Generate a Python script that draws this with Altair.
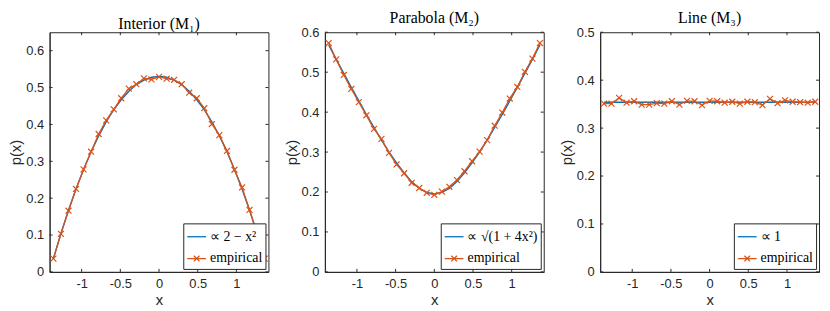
import altair as alt
import pandas as pd

# ---------------- data ----------------
XS = [-1.365, -1.268, -1.170, -1.073, -0.975, -0.878, -0.780, -0.683, -0.585, -0.488,
      -0.390, -0.293, -0.195, -0.098, 0.0, 0.098, 0.195, 0.293, 0.390, 0.488,
      0.585, 0.683, 0.780, 0.878, 0.975, 1.073, 1.170, 1.268, 1.365]

THEORY1 = [0.036, 0.104, 0.167, 0.225, 0.278, 0.326, 0.369, 0.407, 0.440, 0.467,
           0.490, 0.508, 0.520, 0.528, 0.530, 0.528, 0.520, 0.508, 0.490, 0.467,
           0.440, 0.407, 0.369, 0.326, 0.278, 0.225, 0.167, 0.104, 0.036]
EMP1 = [0.036, 0.103, 0.166, 0.225, 0.278, 0.326, 0.374, 0.411, 0.441, 0.471,
        0.497, 0.509, 0.525, 0.522, 0.529, 0.524, 0.521, 0.509, 0.486, 0.471,
        0.444, 0.401, 0.371, 0.328, 0.277, 0.229, 0.168, 0.104, 0.036]

THEORY2 = [0.568, 0.532, 0.497, 0.462, 0.428, 0.394, 0.362, 0.330, 0.300, 0.273,
           0.248, 0.226, 0.209, 0.199, 0.195, 0.199, 0.209, 0.226, 0.248, 0.273,
           0.300, 0.330, 0.362, 0.394, 0.428, 0.462, 0.497, 0.532, 0.568]
EMP2 = [0.573, 0.532, 0.493, 0.458, 0.425, 0.392, 0.358, 0.333, 0.298, 0.269,
        0.247, 0.223, 0.210, 0.198, 0.193, 0.201, 0.213, 0.230, 0.252, 0.277,
        0.301, 0.330, 0.366, 0.399, 0.434, 0.463, 0.501, 0.534, 0.573]

THEORY3 = [0.354] * 29
EMP3 = [0.351, 0.351, 0.363, 0.353, 0.356, 0.349, 0.349, 0.352, 0.351, 0.356,
        0.349, 0.357, 0.356, 0.348, 0.357, 0.356, 0.353, 0.355, 0.351, 0.355,
        0.354, 0.348, 0.361, 0.352, 0.358, 0.355, 0.354, 0.353, 0.355]

TITLES = ["Interior (M\u2081)", "Parabola (M\u2082)", "Line (M\u2083)"]
THEORY_LABELS = ["\u221d 2 \u2212 x\u00b2", "\u221d \u221a(1 + 4x\u00b2)", "\u221d 1"]
EMP_LABEL = "empirical"
X_DOMAIN = [-1.4142, 1.4142]
X_TICKS = [-1, -0.5, 0, 0.5, 1]
Y_DOMAINS = [[0, 0.65], [0, 0.6], [0, 0.5]]
Y_TICKS = [[0, 0.1, 0.2, 0.3, 0.4, 0.5, 0.6],
           [0, 0.1, 0.2, 0.3, 0.4, 0.5, 0.6],
           [0, 0.1, 0.2, 0.3, 0.4, 0.5]]

# ---------------- style ----------------
BLUE = "#0072BD"
ORANGE = "#D95319"
AX = "#262626"
W, H = 221, 242
TICK = 3
LINE_PATH = "M-1,0H1"
LINE_X_PATH = "M-1,0H1M-0.3,-0.3L0.3,0.3M-0.3,0.3L0.3,-0.3"
X_PATH = "M-1,-1L1,1M-1,1L1,-1"


def panel(i, theory, emp):
    xs = alt.Scale(domain=X_DOMAIN, nice=False, zero=False)
    ys = alt.Scale(domain=Y_DOMAINS[i], nice=False, zero=False)
    xax = alt.Axis(values=X_TICKS, title="x", labelExpr="'' + datum.value")
    yax = alt.Axis(values=Y_TICKS[i], title="p(x)", labelExpr="'' + datum.value")
    df_t = pd.DataFrame({"x": XS, "y": theory, "series": THEORY_LABELS[i]})
    df_e = pd.DataFrame({"x": XS, "y": emp, "series": EMP_LABEL})

    xenc = alt.X("x:Q", scale=xs, axis=xax)
    yenc = alt.Y("y:Q", scale=ys, axis=yax)

    theory_line = alt.Chart(df_t).mark_line(color=BLUE, strokeWidth=1.4).encode(x=xenc, y=yenc)
    emp_line = alt.Chart(df_e).mark_line(color=ORANGE, strokeWidth=1.3).encode(x=xenc, y=yenc)
    emp_pts = alt.Chart(df_e).mark_point(shape=X_PATH, filled=False, color=ORANGE,
                                         size=36, strokeWidth=1.2, opacity=1).encode(x=xenc, y=yenc)

    domain = [THEORY_LABELS[i], EMP_LABEL]
    leg = dict(title=None, orient="bottom-right", offset=3, padding=3,
               fillColor="white", strokeColor=AX, cornerRadius=0,
               labelFont="Liberation Serif", labelFontSize=14, labelColor="black",
               symbolSize=361, symbolStrokeWidth=1.3, labelOffset=3, rowPadding=4)
    carrier = alt.Chart(df_e).transform_filter("false").mark_point(
        filled=False, strokeWidth=1.3, opacity=1).encode(
        x=xenc, y=yenc,
        color=alt.Color("series:N", scale=alt.Scale(domain=domain, range=[BLUE, ORANGE]),
                        legend=alt.Legend(**leg)),
        shape=alt.Shape("series:N", scale=alt.Scale(domain=domain, range=[LINE_PATH, LINE_X_PATH]),
                        legend=alt.Legend(**leg)),
    )

    # inward MATLAB-style ticks
    xt = pd.DataFrame({"t": X_TICKS})
    yt = pd.DataFrame({"t": Y_TICKS[i]})
    tx = alt.X("t:Q", scale=xs, axis=xax)
    ty = alt.Y("t:Q", scale=ys, axis=yax)
    rule = dict(color=AX, strokeWidth=1)
    tb = alt.Chart(xt).mark_rule(**rule).encode(x=tx, y=alt.value(H), y2=alt.value(H - TICK))
    tt = alt.Chart(xt).mark_rule(**rule).encode(x=tx, y=alt.value(0), y2=alt.value(TICK))
    tl = alt.Chart(yt).mark_rule(**rule).encode(y=ty, x=alt.value(0), x2=alt.value(TICK))
    tr = alt.Chart(yt).mark_rule(**rule).encode(y=ty, x=alt.value(W), x2=alt.value(W - TICK))

    return alt.layer(theory_line, emp_line, emp_pts, carrier, tb, tt, tl, tr).properties(
        width=W, height=H,
        title=alt.TitleParams(TITLES[i], font="Liberation Serif", fontSize=16,
                              fontWeight="normal", color="black", offset=0),
    )


chart = alt.hconcat(
    panel(0, THEORY1, EMP1),
    panel(1, THEORY2, EMP2),
    panel(2, THEORY3, EMP3),
    spacing=12,
).resolve_scale(
    color="independent", shape="independent", x="independent", y="independent"
).properties(padding=0).configure_view(
    stroke=AX, strokeWidth=1
).configure_axis(
    domain=True, domainColor=AX, domainWidth=1, ticks=False, grid=False,
    labelFont="Liberation Sans", labelFontSize=13, labelColor=AX, labelPadding=6,
    titleFont="Liberation Sans", titleFontSize=15, titleFontWeight="normal", titleColor=AX,
    titlePadding=2,
)

chart.save("out.html", embed_options={"renderer": "svg", "actions": False})
